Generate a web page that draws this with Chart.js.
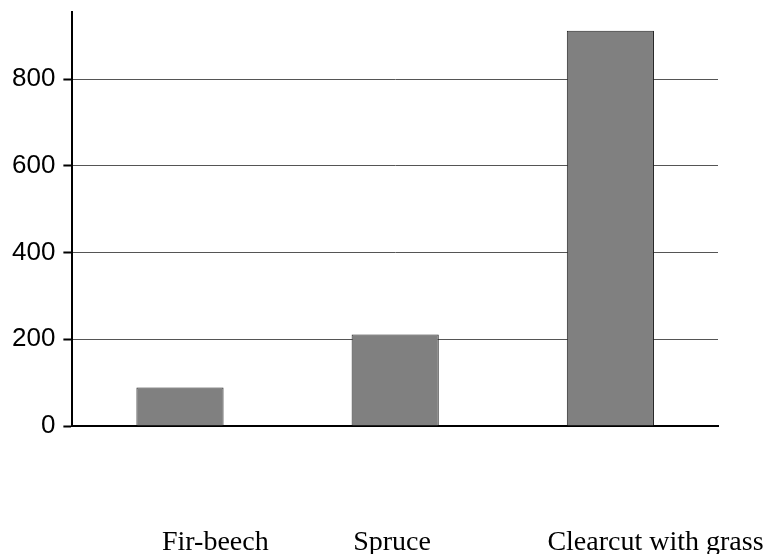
<!DOCTYPE html>
<html>
<head>
<meta charset="utf-8">
<script src="https://cdn.jsdelivr.net/npm/chart.js@4"></script>
<style>
    html, body { margin: 0; padding: 0; background: #ffffff; }
    #chart-wrap { width: 770px; height: 554px; }
</style>
</head>
<body>
<div id="chart-wrap"><canvas id="bar-chart"></canvas></div>
<script>
const categories = ['Fir-beech', 'Spruce', 'Clearcut with grass'];
const values = [89, 211, 912];
const yTicks = [0, 200, 400, 600, 800];
const yMax = 955;

// category names sit well below the axis, left aligned, not quite under the bars
const labelShift = [-18, -42, -63];

const categoryLabels = {
    id: 'categoryLabels',
    afterDraw(chart) {
        const ctx = chart.ctx;
        const xScale = chart.scales.x;
        ctx.save();
        ctx.font = '28px "Liberation Serif", "Times New Roman", serif';
        ctx.fillStyle = '#000000';
        ctx.textAlign = 'left';
        ctx.textBaseline = 'alphabetic';
        categories.forEach((name, i) => {
            ctx.fillText(name, xScale.getPixelForValue(i) + labelShift[i], 550);
        });
        ctx.restore();
    }
};

const ctx = document.getElementById('bar-chart').getContext('2d');
new Chart(ctx, {
    type: 'bar',
    data: {
        labels: categories,
        datasets: [{
            data: values,
            backgroundColor: '#808080',
            borderColor: '#222222',
            borderWidth: 1,
            barPercentage: 0.405,
            categoryPercentage: 1.0
        }]
    },
    options: {
        responsive: true,
        maintainAspectRatio: false,
        animation: false,
        layout: {
            padding: { top: 12, right: 52, bottom: 128, left: 4 }
        },
        plugins: {
            legend: { display: false },
            tooltip: { enabled: false }
        },
        scales: {
            x: {
                ticks: { display: false },
                grid: { display: false, drawTicks: false },
                border: { display: true, color: '#000000', width: 2 }
            },
            y: {
                min: 0,
                max: yMax,
                afterBuildTicks: (scale) => {
                    scale.ticks = yTicks.map(v => ({ value: v }));
                },
                afterFit: (scale) => {
                    // top label is far below the axis end, no room needed for it
                    scale.paddingTop = 0;
                },
                ticks: {
                    color: '#000000',
                    padding: 8,
                    font: { family: '"Liberation Sans", Arial, sans-serif', size: 26 }
                },
                grid: {
                    color: '#555555',
                    lineWidth: 1,
                    tickLength: 9,
                    tickColor: '#000000',
                    tickWidth: 2
                },
                border: { display: true, color: '#000000', width: 2 }
            }
        }
    },
    plugins: [categoryLabels]
});
</script>
</body>
</html>
